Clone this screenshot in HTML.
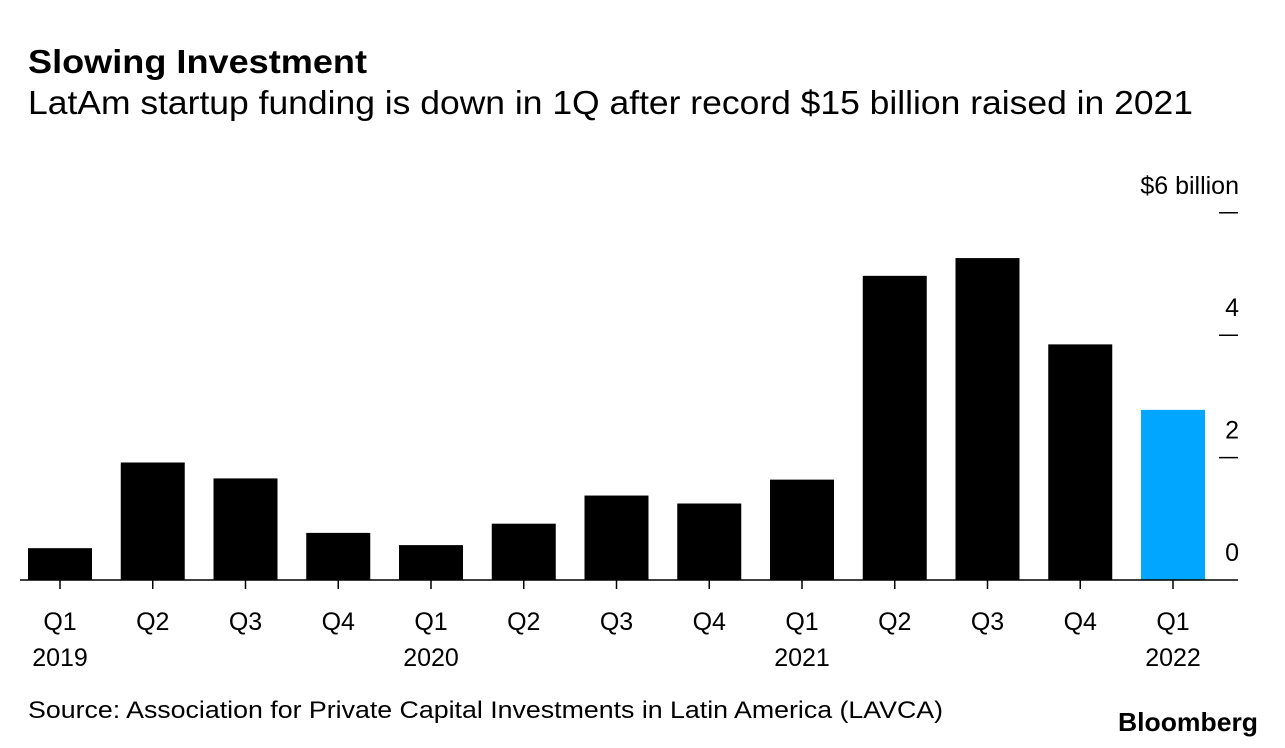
<!DOCTYPE html>
<html><head><meta charset="utf-8"><style>
body{margin:0;background:#fff;width:1285px;height:748px;overflow:hidden;font-family:"Liberation Sans",Arial,sans-serif;}
svg{display:block}
</style></head><body>
<svg id="chart" width="1285" height="748" xmlns="http://www.w3.org/2000/svg" font-family="Liberation Sans, Arial, sans-serif">
<text x="28" y="73" font-size="33" font-weight="bold" fill="#000" textLength="339" lengthAdjust="spacingAndGlyphs">Slowing Investment</text>
<text x="28" y="114" font-size="33" fill="#000" textLength="1165" lengthAdjust="spacingAndGlyphs">LatAm startup funding is down in 1Q after record $15 billion raised in 2021</text>
<text x="28" y="718" font-size="24" fill="#000" textLength="915" lengthAdjust="spacingAndGlyphs">Source: Association for Private Capital Investments in Latin America (LAVCA)</text>
<text x="1258" y="731" font-size="26" font-weight="bold" text-anchor="end" fill="#000" textLength="140" lengthAdjust="spacingAndGlyphs">Bloomberg</text>
<g id="plot"></g>
</svg>
<script>
const quarters=["Q1","Q2","Q3","Q4","Q1","Q2","Q3","Q4","Q1","Q2","Q3","Q4","Q1"];
const years=["2019","","","","2020","","","","2021","","","","2022"];
const values=[0.52,1.92,1.66,0.77,0.57,0.92,1.38,1.25,1.64,4.97,5.26,3.85,2.78];
const yTicks=[0,2,4,6];
const yTickLabels=["0","2","4","$6 billion"];
const NS="http://www.w3.org/2000/svg";
const g=document.getElementById('plot');
const y0=580, yScale=61.2, x0=28, step=92.75, bw=64;
const y=v=>y0-v*yScale;
const x=i=>x0+i*step;
function mk(t,a){const e=document.createElementNS(NS,t);for(const k in a)e.setAttribute(k,a[k]);g.appendChild(e);return e;}
values.forEach((v,i)=>{
  const r=mk('rect',{x:x(i),y:y(v),width:bw,height:y0-y(v),fill:i===values.length-1?'#00a6ff':'#000'});
  
  
  const c=x(i)+bw/2;
  const tk=mk('line',{x1:c,x2:c,y1:y0,y2:y0+9,stroke:'#000','stroke-width':1.5});
  
  
  const t=mk('text',{x:c,y:630,'font-size':25,'text-anchor':'middle',fill:'#000'});
  t.textContent=quarters[i];
  
  
  if(years[i]){
    const yt=mk('text',{x:c,y:666,'font-size':25,'text-anchor':'middle',fill:'#000'});
    yt.textContent=years[i];
    
    
  }
});
const base=mk('line',{x1:20,x2:1238,y1:y0,y2:y0,stroke:'#000','stroke-width':1.5});


yTicks.forEach((v,i)=>{
  if(v!==0){
    const l=mk('line',{x1:1219,x2:1238,y1:y(v),y2:y(v),stroke:'#000','stroke-width':1.5});
    
    
  }
  const t=mk('text',{x:1239,y:y(v)-19,'font-size':25,'text-anchor':'end',fill:'#000'});
  t.textContent=yTickLabels[i];
  
  
});
</script>
</body></html>
